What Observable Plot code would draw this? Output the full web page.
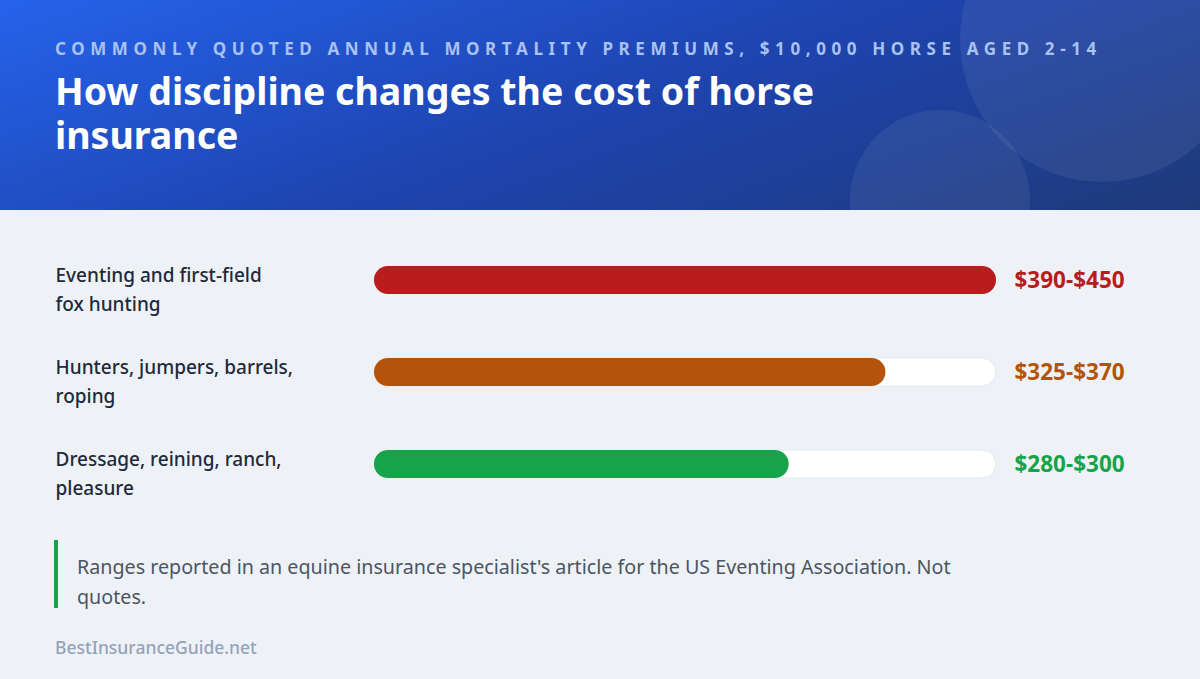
<!DOCTYPE html>
<html>
<head>
<meta charset="utf-8">
<script src="https://cdn.jsdelivr.net/npm/d3@7"></script>
<script src="https://cdn.jsdelivr.net/npm/@observablehq/plot@0.6"></script>
<style>
  html, body { margin: 0; padding: 0; }
  body { width: 1200px; height: 679px; overflow: hidden; background: #eef2f7; font-family: "Noto Sans", sans-serif; }
  .header { position: relative; height: 210px; overflow: hidden;
    background: linear-gradient(160deg, #2563eb 0%, #1e44b0 50%, #1e3a7a 100%); }
  .circle { position: absolute; border-radius: 50%; background: rgba(255,255,255,0.065); }
  .kicker { position: absolute; left: 55px; top: 37px; font-size: 17px; font-weight: 700; letter-spacing: 5.6px; color: #a9c2f2; white-space: nowrap; }
  .title { position: absolute; left: 55px; top: 69px; width: 820px; font-size: 37.5px; font-weight: 700; line-height: 44px; color: #ffffff; }
  #chart { position: absolute; left: 0; top: 210px; }
  .note { position: absolute; left: 54px; top: 540px; width: 920px; border-left: 4px solid #16a34a; padding-left: 19px; font-size: 19.7px; line-height: 30px; color: #4b5563; box-sizing: border-box; height: 68px; padding-top: 12px; }
  .source { position: absolute; left: 55px; top: 635px; font-size: 17.5px; color: #94a3b8; font-weight: 500; }
</style>
</head>
<body>
<div class="header">
  <div class="circle" style="left:960px; top:-102px; width:284px; height:284px;"></div>
  <div class="circle" style="left:850px; top:110px; width:180px; height:180px;"></div>
  <div class="kicker" id="kicker"></div>
  <div class="title" id="title"></div>
</div>
<div id="chart"></div>
<div class="note" id="note"></div>
<div class="source" id="source"></div>
<script>
const kicker = "COMMONLY QUOTED ANNUAL MORTALITY PREMIUMS, $10,000 HORSE AGED 2-14";
const title = "How discipline changes the cost of horse insurance";
const note = "Ranges reported in an equine insurance specialist's article for the US Eventing Association. Not quotes.";
const source = "BestInsuranceGuide.net";

const categories = ["Eventing and first-field fox hunting", "Hunters, jumpers, barrels, roping", "Dressage, reining, ranch, pleasure"];
const labelLines = ["Eventing and first-field\nfox hunting", "Hunters, jumpers, barrels,\nroping", "Dressage, reining, ranch,\npleasure"];
const lowValues = [390, 325, 280];
const highValues = [450, 370, 300];
const colors = ["#b91c1c", "#b45309", "#16a34a"];
const scaleMax = 450;

document.getElementById("kicker").textContent = kicker;
document.getElementById("title").textContent = title;
document.getElementById("note").textContent = note;
document.getElementById("source").textContent = source;

const rows = categories.map((c, i) => ({
  category: c, label: labelLines[i], low: lowValues[i], high: highValues[i], color: colors[i],
  range: `$${lowValues[i]}-$${highValues[i]}`
}));

const chart = Plot.plot({
  width: 1200,
  height: 310,
  marginLeft: 374,
  marginRight: 204,
  marginTop: 24,
  marginBottom: 10,
  style: { background: "transparent", fontFamily: "'Noto Sans', sans-serif", overflow: "visible" },
  x: { domain: [0, scaleMax], axis: null },
  y: { domain: categories, axis: null, padding: 0 },
  marks: [
    Plot.barX(rows, { x1: 0, x2: scaleMax, y: "category", fill: "#ffffff", stroke: "#e2e8f0", strokeWidth: 1, insetTop: 32, insetBottom: 32, rx: 14 }),
    Plot.barX(rows, { x1: 0, x2: "high", y: "category", fill: d => d.color, insetTop: 32, insetBottom: 32, rx: 14 }),
    Plot.text(rows, { x: 0, y: "category", text: "label", dx: -319, dy: -19, textAnchor: "start", lineAnchor: "top", lineHeight: 1.53, fontSize: 19, fontWeight: 500, fill: "#1e293b" }),
    Plot.text(rows, { x: scaleMax, y: "category", text: "range", dx: 18, textAnchor: "start", fontSize: 22.5, fontWeight: 700, fill: d => d.color })
  ]
});
document.getElementById("chart").appendChild(chart);
</script>
</body>
</html>
